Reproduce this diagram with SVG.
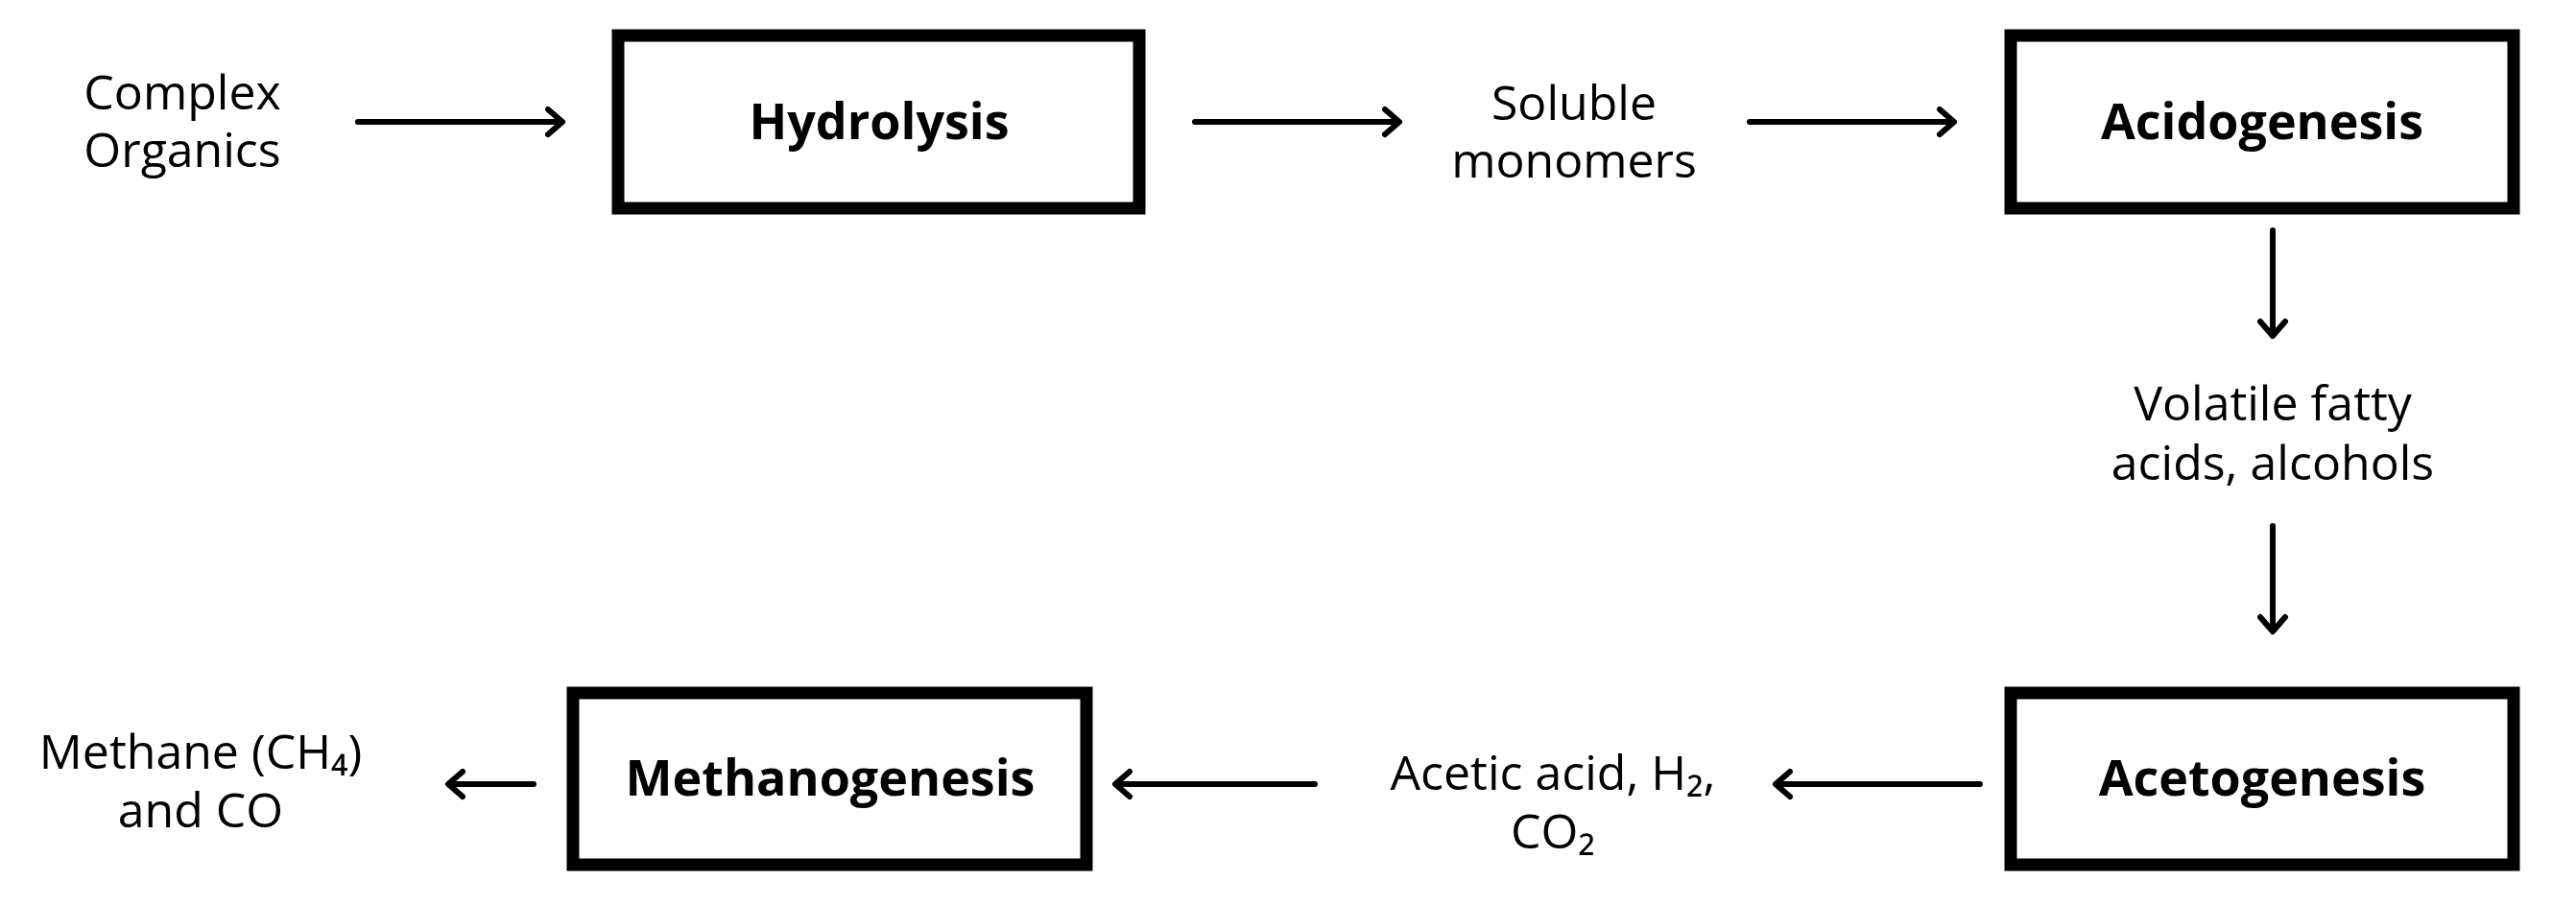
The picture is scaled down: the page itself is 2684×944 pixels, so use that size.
<svg xmlns="http://www.w3.org/2000/svg" width="2684" height="944" viewBox="0 0 2684 944">
<defs>
<style>
.box{fill:#fff;stroke:#000;stroke-width:13}
.t{font-family:"Open Sans","Liberation Sans",sans-serif;font-size:50px;fill:#000;text-anchor:middle}
.b{font-weight:bold;font-size:52px}
.c{stroke:#000;stroke-width:6;fill:none}
</style>
</defs>
<rect width="2684" height="944" fill="#fff"/>
<g id="complex"><text class="t" x="190" y="114">Complex</text><text class="t" x="190" y="174">Organics</text></g>
<g id="hydrolysis"><rect class="box" x="644" y="37" width="543" height="180"/><text class="t b" x="916" y="145">Hydrolysis</text></g>
<g id="soluble"><text class="t" x="1640" y="125">Soluble</text><text class="t" x="1640" y="185">monomers</text></g>
<g id="acidogenesis"><rect class="box" x="2095" y="37" width="524" height="180"/><text class="t b" x="2357" y="145">Acidogenesis</text></g>
<g id="volatile"><text class="t" x="2368" y="438">Volatile fatty</text><text class="t" x="2368" y="500">acids, alcohols</text></g>
<g id="acetogenesis"><rect class="box" x="2095" y="722" width="524" height="179"/><text class="t b" x="2357" y="829">Acetogenesis</text></g>
<g id="acetic"><text class="t" x="1618" y="823">Acetic acid, H₂,</text><text class="t" x="1618" y="884">CO₂</text></g>
<g id="methanogenesis"><rect class="box" x="597" y="722" width="535" height="179"/><text class="t b" x="865" y="829">Methanogenesis</text></g>
<g id="methane"><text class="t" x="209" y="801">Methane (CH₄)</text><text class="t" x="209" y="862">and CO</text></g>
<g id="connectors" stroke-linecap="round" stroke-linejoin="round">
<path class="c" d="M373,127 H585 M571,114 L586,127 L571,140"/>
<path class="c" d="M1245,127 H1457 M1443,114 L1458,127 L1443,140"/>
<path class="c" d="M1823,127 H2035 M2021,114 L2036,127 L2021,140"/>
<path class="c" d="M2368,240 V349 M2355,335 L2368,350 L2381,335"/>
<path class="c" d="M2368,548 V657 M2355,643 L2368,658 L2381,643"/>
<path class="c" d="M2063,817 H1851 M1865,804 L1850,817 L1865,830"/>
<path class="c" d="M1370,817 H1163 M1177,804 L1162,817 L1177,830"/>
<path class="c" d="M556,817 H468 M482,804 L467,817 L482,830"/>
</g>
</svg>
